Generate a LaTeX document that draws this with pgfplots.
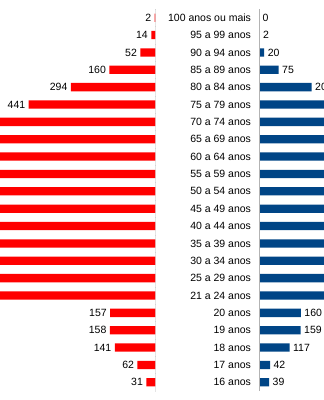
\documentclass[border=0pt]{standalone}
\usepackage{pgfplots}
\pgfplotsset{compat=1.18}
\usepackage{pgfplotstable}
\usepackage{fontspec}
\setmainfont{Liberation Sans}
\definecolor{barred}{HTML}{FF0000}
\definecolor{barblue}{HTML}{004586}
\definecolor{axgray}{HTML}{B3B3B3}

\pgfplotstableread{
k left right
0.5 2 0
1.5 14 2
2.5 52 20
3.5 160 75
4.5 294 201
5.5 441 310
6.5 590 420
7.5 720 560
8.5 880 700
9.5 1010 850
10.5 1130 980
11.5 1190 1050
12.5 1240 1110
13.5 1320 1200
14.5 1280 1170
15.5 1150 1080
16.5 890 850
17.5 157 160
18.5 158 159
19.5 141 117
20.5 62 42
21.5 31 39
}\data

\begin{document}
\begin{tikzpicture}[font=\fontsize{10.5bp}{12bp}\selectfont]
\useasboundingbox (0,0) rectangle (324bp,400bp);
\clip (0,0) rectangle (324bp,400bp);
\begin{axis}[
  at={(0bp,9bp)}, anchor=south west, scale only axis,
  width=155.3bp, height=382bp,
  xmin=0, xmax=541, ymin=0, ymax=22,
  x dir=reverse, y dir=reverse,
  hide axis,
  xbar, bar width=8.3bp, bar shift=0pt,
  nodes near coords, nodes near coords align={left},
  /pgf/number format/assume math mode=true,
  every node near coord/.append style={text=black, font=\fontsize{10.5bp}{12bp}\selectfont},
]
\addplot[fill=barred, draw=none] table[x=left, y=k] {\data};
\draw[axgray] (axis cs:0,0) -- (axis cs:0,22);
\pgfplotsinvokeforeach{0,...,22}{\draw[axgray] (axis cs:0,#1) -- ++(4bp,0);}
\end{axis}
\begin{axis}[
  at={(259bp,9bp)}, anchor=south west, scale only axis,
  width=80bp, height=382bp,
  xmin=0, xmax=305.3, ymin=0, ymax=22,
  y dir=reverse,
  axis line style={draw=none},
  xtick=\empty, ytick=data,
  yticklabels={100 anos ou mais, 95 a 99 anos, 90 a 94 anos, 85 a 89 anos, 80 a 84 anos, 75 a 79 anos, 70 a 74 anos, 65 a 69 anos, 60 a 64 anos, 55 a 59 anos, 50 a 54 anos, 45 a 49 anos, 40 a 44 anos, 35 a 39 anos, 30 a 34 anos, 25 a 29 anos, 21 a 24 anos, 20 anos, 19 anos, 18 anos, 17 anos, 16 anos},
  major tick length=0pt,
  yticklabel style={xshift=-4.5bp, text=black, font=\fontsize{10.5bp}{12bp}\selectfont},
  xbar, bar width=8.3bp, bar shift=0pt,
  nodes near coords, nodes near coords align={right},
  /pgf/number format/assume math mode=true,
  every node near coord/.append style={text=black, font=\fontsize{10.5bp}{12bp}\selectfont},
]
\addplot[fill=barblue, draw=none] table[x=right, y=k] {\data};
\draw[axgray] (axis cs:0,0) -- (axis cs:0,22);
\pgfplotsinvokeforeach{0,...,22}{\draw[axgray] (axis cs:0,#1) -- ++(-4bp,0);}
\end{axis}
\end{tikzpicture}
\end{document}
